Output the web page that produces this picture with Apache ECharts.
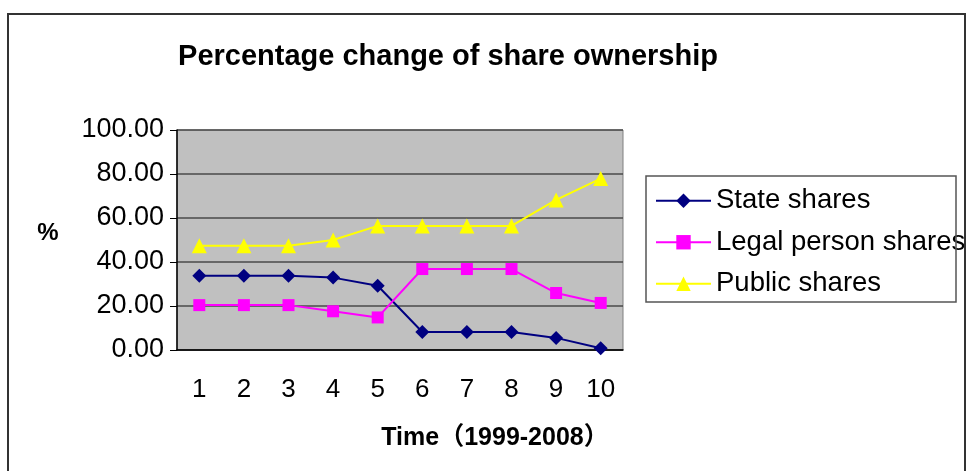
<!DOCTYPE html>
<html>
<head>
<meta charset="utf-8">
<script src="https://cdn.jsdelivr.net/npm/echarts@6/dist/echarts.min.js"></script>
<style>
  html, body { margin: 0; padding: 0; background: #fff; }
  #chart { width: 971px; height: 471px; }
</style>
</head>
<body>
<div id="chart"></div>
<script>
// years 1999-2008 shown as 1..10
const categories = ['1', '2', '3', '4', '5', '6', '7', '8', '9', '10']
const stateShares = [33.8, 33.8, 33.8, 32.9, 29.2, 8.2, 8.2, 8.2, 5.5, 0.8]
const legalPersonShares = [20.4, 20.4, 20.4, 17.6, 14.8, 36.8, 36.8, 36.8, 25.9, 21.4]
const publicShares = [47.4, 47.4, 47.4, 50.0, 56.4, 56.4, 56.4, 56.4, 68.2, 77.9]

const font = 'Liberation Sans, Arial, Noto Sans CJK SC, sans-serif'

const chart = echarts.init(document.getElementById('chart'))

const option = {
  backgroundColor: '#fff',
  animation: false,
  title: {
    text: 'Percentage change of share ownership',
    left: 443,
    top: 37,
    textAlign: 'center',
    textStyle: { fontFamily: font, fontSize: 29, fontWeight: 'bold', color: '#000' },
  },
  graphic: [
    {
      type: 'rect',
      shape: { x: 8, y: 14, width: 957, height: 480 },
      style: { fill: 'none', stroke: '#333', lineWidth: 2 },
      z: 100,
    },
    {
      type: 'rect',
      shape: { x: 646, y: 176, width: 310, height: 126 },
      style: { fill: 'none', stroke: '#555', lineWidth: 1.5 },
      z: 100,
    },
    {
      // y axis name
      type: 'text',
      x: 48,
      y: 233,
      style: {
        text: '%', fontFamily: font, fontSize: 24, fontWeight: 'bold', fill: '#000',
        align: 'center', verticalAlign: 'middle',
      },
    },
  ],
  grid: {
    left: 177,
    top: 130,
    right: 348,
    bottom: 121,
    show: true,
    backgroundColor: '#C0C0C0',
    borderColor: '#808080',
    borderWidth: 1,
  },
  legend: {
    orient: 'vertical',
    left: 655,
    top: 187,
    padding: 0,
    itemWidth: 55,
    itemHeight: 18,
    itemGap: 14,
    textStyle: { fontFamily: font, fontSize: 27.5, color: '#000', lineHeight: 26 },
    data: ['State shares', 'Legal person shares', 'Public shares'],
  },
  xAxis: {
    type: 'category',
    data: categories,
    name: 'Time（1999-2008）',
    nameLocation: 'middle',
    nameGap: 76,
    nameTextStyle: {
      fontFamily: font, fontSize: 25, fontWeight: 'bold', color: '#000',
      padding: [0, 0, 0, 190],
    },
    axisLine: { lineStyle: { color: '#000', width: 1.5 } },
    axisTick: { length: 6, lineStyle: { color: '#000' } },
    axisLabel: { fontFamily: font, fontSize: 26, color: '#000', margin: 27 },
  },
  yAxis: {
    type: 'value',
    min: 0,
    max: 100,
    interval: 20,
    axisLine: { show: true, lineStyle: { color: '#000', width: 1.5 } },
    axisTick: { show: true, length: 7, lineStyle: { color: '#000' } },
    axisLabel: {
      fontFamily: font, fontSize: 27, color: '#000', margin: 13,
      formatter: (v) => v.toFixed(2),
    },
    splitLine: { lineStyle: { color: '#4a4a4a', width: 1.5 } },
  },
  series: [
    {
      name: 'State shares',
      type: 'line',
      data: stateShares,
      symbol: 'diamond',
      symbolSize: 14,
      lineStyle: { color: '#000080', width: 2 },
      itemStyle: { color: '#000080' },
    },
    {
      name: 'Legal person shares',
      type: 'line',
      data: legalPersonShares,
      symbol: 'rect',
      symbolSize: 12,
      lineStyle: { color: '#FF00FF', width: 2 },
      itemStyle: { color: '#FF00FF' },
    },
    {
      name: 'Public shares',
      type: 'line',
      data: publicShares,
      symbol: 'triangle',
      symbolSize: 15,
      lineStyle: { color: '#FFFF00', width: 2 },
      itemStyle: { color: '#FFFF00' },
    },
  ],
}

chart.setOption(option)
</script>
</body>
</html>
